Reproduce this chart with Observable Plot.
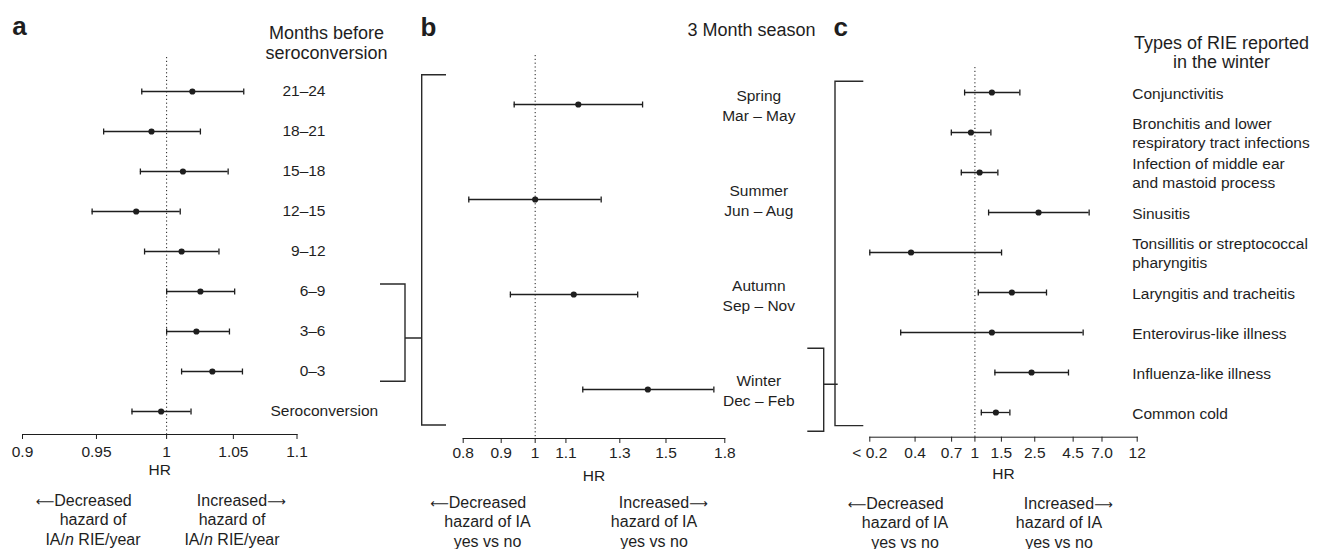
<!DOCTYPE html>
<html><head><meta charset="utf-8">
<script src="https://cdn.jsdelivr.net/npm/d3@7"></script>
<script src="https://cdn.jsdelivr.net/npm/@observablehq/plot@0.6"></script>
<style>
body{margin:0;background:#fff;}
#chart{position:relative;width:1329px;height:549px;font-family:"Liberation Sans",Arial,sans-serif;color:#1e1e1e;overflow:hidden;background:#fff}
#chart svg{position:absolute;left:0;top:0}
.cap{position:absolute;width:200px;text-align:center;font-size:16px;line-height:19.5px;white-space:nowrap}
.w{position:relative}
.al,.ar{position:absolute;top:0;font-family:"DejaVu Sans",sans-serif;font-size:13px}
.al{right:100%}
.ar{left:100%}
</style></head><body><div id="chart"></div>
<script>
// ---------- data ----------
const monthsLabels = ["21–24","18–21","15–18","12–15","9–12","6–9","3–6","0–3","Seroconversion"];
const monthsHR = [1.019,0.989,1.012,0.978,1.011,1.025,1.022,1.034,0.996];
const monthsLo = [0.982,0.955,0.981,0.947,0.984,1.000,1.000,1.011,0.975];
const monthsHi = [1.058,1.025,1.046,1.010,1.039,1.051,1.047,1.057,1.018];

const seasonLabels = ["Spring\nMar – May","Summer\nJun – Aug","Autumn\nSep – Nov","Winter\nDec – Feb"];
const seasonHR = [1.143,1.000,1.127,1.418];
const seasonLo = [0.937,0.814,0.926,1.159];
const seasonHi = [1.395,1.227,1.374,1.740];

const rieLabels = ["Conjunctivitis","Bronchitis and lower\nrespiratory tract infections","Infection of middle ear\nand mastoid process","Sinusitis","Tonsillitis or streptococcal\npharyngitis","Laryngitis and tracheitis","Enterovirus-like illness","Influenza-like illness","Common cold"];
const rieHR = [1.297,0.941,1.075,2.649,0.376,1.761,1.297,2.380,1.379];
const rieLo = [0.854,0.697,0.812,1.233,0.200,1.053,0.321,1.358,1.103];
const rieHi = [1.990,1.277,1.421,5.750,1.504,2.993,5.245,4.190,1.708];

const ticksA = [0.9,0.95,1,1.05,1.1];
const tickLabelsA = ["0.9","0.95","1","1.05","1.1"];
const ticksB = [0.8,0.9,1,1.1,1.3,1.5,1.8];
const tickLabelsB = ["0.8","0.9","1","1.1","1.3","1.5","1.8"];
const ticksC = [0.2,0.4,0.7,1,1.5,2.5,4.5,7,12];
const tickLabelsC = ["< 0.2","0.4","0.7","1","1.5","2.5","4.5","7.0","12"];

const headerA = "Months before\nseroconversion";
const headerB = "3 Month season";
const headerC = "Types of RIE reported\nin the winter";

// ---------- helpers ----------
const W = 1329, H = 549;
const INK = "#1e1e1e";
const FONT = "'Liberation Sans', Arial, sans-serif";
const vbar = {draw(ctx, size){const r = Math.sqrt(size/Math.PI); ctx.moveTo(0,-r); ctx.lineTo(0,r);}};
const rows = (labels, hr, lo, hi) => labels.map((label,i)=>({label, hr:hr[i], lo:lo[i], hi:hi[i]}));
const svgStyle = {background:"transparent", fontFamily:FONT, fontSize:"15.5px", color:INK, overflow:"visible"};
const fmt = (ticks, labels) => d => labels[ticks.findIndex(t => Math.abs(t - d) < 1e-6 * t)] ?? "";

function bracketMark(pathFn){
  return (index, scales, values, dims) =>
    d3.create("svg:path").attr("d", pathFn(scales.y, dims))
      .attr("fill","none").attr("stroke","#2a2a2a").attr("stroke-width",1.4).node();
}
function forestMarks(data, capR){
  return [
    Plot.ruleX([1], {stroke:INK, strokeWidth:1, strokeDasharray:"1.2,2.6"}),
    Plot.ruleY(data, {y:"label", x1:"lo", x2:"hi", stroke:INK, strokeWidth:1.3}),
    Plot.dot(data, {x:"lo", y:"label", symbol:vbar, r:capR, stroke:INK, fill:"none", strokeWidth:1.3}),
    Plot.dot(data, {x:"hi", y:"label", symbol:vbar, r:capR, stroke:INK, fill:"none", strokeWidth:1.3}),
    Plot.dot(data, {x:"hr", y:"label", r:3.1, fill:INK, stroke:"none"})
  ];
}
const label = (s, o) => Plot.text([s], {text:d=>d, lineAnchor:"middle", fill:INK, ...o});
// tick labels drawn as a text mark (so that every listed tick keeps its label on a log scale)
const tickText = (ticks, labels, gap) => Plot.text(ticks, {x:d=>d, text:fmt(ticks, labels), frameAnchor:"bottom", lineAnchor:"top", dy:gap, fontSize:15.5, fill:INK});

// ---------- panel a ----------
const dataA = rows(monthsLabels, monthsHR, monthsLo, monthsHi);
const plotA = Plot.plot({
  width:W, height:H, marginLeft:22, marginRight:W-296.5, marginTop:57, marginBottom:H-434,
  style:svgStyle,
  x:{type:"log", domain:[0.9,1.1], ticks:ticksA, tickFormat:()=>"", tickSize:5, tickPadding:6, line:true, label:null},
  y:{type:"point", domain:monthsLabels, range:[88,413], padding:0, axis:null},
  marks:[
    ...forestMarks(dataA, 3),
    tickText(ticksA, tickLabelsA, 11),
    Plot.text(dataA.filter(d=>d.label!=="Seroconversion"), {y:"label", text:"label", frameAnchor:"right", textAnchor:"end", dx:28.5, fontSize:15.5, fill:INK}),
    Plot.text(dataA.filter(d=>d.label==="Seroconversion"), {y:"label", text:"label", frameAnchor:"right", textAnchor:"start", dx:-26.5, fontSize:15.5, fill:INK}),
    label(headerA, {frameAnchor:"top-right", dx:29.5, dy:-15.3, textAnchor:"middle", fontSize:18, lineHeight:1.11}),
    label("a", {frameAnchor:"top-left", dx:-10.3, dy:-31.3, textAnchor:"start", fontSize:26, fontWeight:"bold"}),
    label("HR", {frameAnchor:"bottom", dy:36, fontSize:15.5}),
    bracketMark((y, m) => {
      const R = m.width - m.marginRight;
      const t = y("6–9") - 7, b = y("0–3") + 10.3, c = y("3–6") + 7;
      return `M${R+83.5},${t}H${R+108.5}V${b}H${R+83.5}M${R+108.5},${c}H${R+125.2}`;
    })
  ]
});

// ---------- panel b ----------
const dataB = rows(seasonLabels, seasonHR, seasonLo, seasonHi);
const plotB = Plot.plot({
  width:W, height:H, marginLeft:462.7, marginRight:W-724.3, marginTop:55, marginBottom:H-438,
  style:svgStyle,
  x:{type:"log", domain:[0.8,1.8], ticks:ticksB, tickFormat:()=>"", tickSize:5, tickPadding:3.5, line:true, label:null},
  y:{type:"point", domain:seasonLabels, range:[103.3,390], padding:0, axis:null},
  marks:[
    ...forestMarks(dataB, 3),
    tickText(ticksB, tickLabelsB, 8.5),
    Plot.text(dataB, {y:"label", text:"label", frameAnchor:"right", textAnchor:"middle", dx:34, fontSize:15.5, lineHeight:1.26, fill:INK}),
    label(headerB, {frameAnchor:"top-right", dx:26.7, dy:-25, textAnchor:"middle", fontSize:18}),
    label("b", {frameAnchor:"top-left", dx:-42.7, dy:-28.3, textAnchor:"start", fontSize:26, fontWeight:"bold"}),
    label("HR", {frameAnchor:"bottom", dy:38, fontSize:15.5}),
    bracketMark((y, m) => {
      const L = m.marginLeft;
      const t = y(seasonLabels[0]) - 29.3, b = y(seasonLabels[3]) + 36;
      return `M${L-16.7},${t}H${L-41}V${b}H${L-16.7}`;
    }),
    bracketMark((y, m) => {
      const R = m.width - m.marginRight, w = y(seasonLabels[3]);
      return `M${R+83},${w-40.7}H${R+99.4}V${w+42.3}H${R+83}M${R+99.4},${w-4.7}H${R+113.4}`;
    })
  ]
});

// ---------- panel c ----------
const dataC = rows(rieLabels, rieHR, rieLo, rieHi);
const plotC = Plot.plot({
  width:W, height:H, marginLeft:869.3, marginRight:W-1136.7, marginTop:67, marginBottom:H-436.7,
  style:svgStyle,
  x:{type:"log", domain:[0.2,12], ticks:ticksC, tickFormat:()=>"", tickSize:5, tickPadding:5, line:true, label:null},
  y:{type:"point", domain:rieLabels, range:[88,415.7], padding:0, axis:null},
  marks:[
    ...forestMarks(dataC, 3),
    tickText(ticksC, tickLabelsC, 10),
    Plot.text(dataC, {y:"label", text:"label", frameAnchor:"right", textAnchor:"start", dx:-5, fontSize:15.5, lineHeight:1.24, fill:INK}),
    label(headerC, {frameAnchor:"top-right", dx:84.3, dy:-14.7, textAnchor:"middle", fontSize:18, lineHeight:1.06}),
    label("c", {frameAnchor:"top-left", dx:-36.3, dy:-40.3, textAnchor:"start", fontSize:26, fontWeight:"bold"}),
    label("HR", {frameAnchor:"bottom", dy:37, fontSize:15.5}),
    bracketMark((y, m) => {
      const L = m.marginLeft;
      const t = y(rieLabels[0]) - 10.7, b = y(rieLabels[8]) + 13.6;
      return `M${L-6},${t}H${L-34.3}V${b}H${L-6}`;
    })
  ]
});

const chart = document.getElementById("chart");
chart.append(plotA, plotB, plotC);

// ---------- captions ----------
const captions = [
  {cx:93, top:490.5, dir:"l", word:"Decreased", rest:["hazard of","IA/<i>n</i> RIE/year"]},
  {cx:232, top:490.5, dir:"r", word:"Increased", rest:["hazard of","IA/<i>n</i> RIE/year"]},
  {cx:487.5, top:492.5, dir:"l", word:"Decreased", rest:["hazard of IA","yes vs no"]},
  {cx:654, top:492.5, dir:"r", word:"Increased", rest:["hazard of IA","yes vs no"]},
  {cx:905, top:493.5, dir:"l", word:"Decreased", rest:["hazard of IA","yes vs no"]},
  {cx:1059, top:493.5, dir:"r", word:"Increased", rest:["hazard of IA","yes vs no"]}
];
for (const c of captions){
  const div = document.createElement("div");
  div.className = "cap";
  div.style.left = (c.cx - 100) + "px";
  div.style.top = c.top + "px";
  const arrow = c.dir === "l" ? `<span class="al">⟵</span>` : `<span class="ar">⟶</span>`;
  div.innerHTML = `<div><span class="w">${arrow}${c.word}</span></div>` + c.rest.map(r=>`<div>${r}</div>`).join("");
  chart.append(div);
}
</script></body></html>
